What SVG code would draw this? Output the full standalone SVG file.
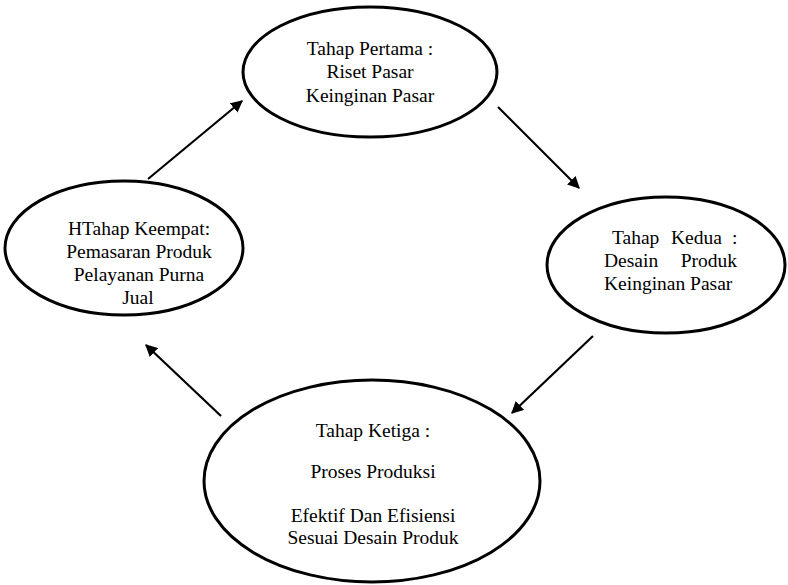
<svg xmlns="http://www.w3.org/2000/svg" width="788" height="585" viewBox="0 0 788 585">
<style>
.node ellipse{fill:#fff;stroke:#000;stroke-width:3}
.c{text-anchor:middle}
.conn line{stroke:#000;stroke-width:2.2}
</style>
<defs>
<marker id="ah" viewBox="0 0 10 10" refX="9" refY="5" markerWidth="5.5" markerHeight="5.5" markerUnits="strokeWidth" orient="auto">
<path d="M0,0 L10,5 L0,10 z" fill="#000"/>
</marker>
</defs>
<rect width="788" height="585" fill="#fff"/>
<g font-family="Liberation Serif, serif" font-size="19.5" fill="#000">
<g id="n1" class="node">
<ellipse cx="370" cy="72" rx="127" ry="65"/>
<text class="c" x="370" y="55">Tahap Pertama :</text>
<text class="c" x="370" y="78">Riset Pasar</text>
<text class="c" x="370" y="102">Keinginan Pasar</text>
</g>
<g id="n2" class="node">
<ellipse cx="666" cy="265" rx="119" ry="68"/>
<text x="612" y="244">Tahap</text>
<text x="671" y="244">Kedua</text>
<text x="732" y="244">:</text>
<text x="604" y="267">Desain</text>
<text x="737" y="267" text-anchor="end">Produk</text>
<text x="604" y="290">Keinginan Pasar</text>
</g>
<g id="n3" class="node">
<ellipse cx="124" cy="248" rx="119" ry="67"/>
<text class="c" x="139" y="235">HTahap Keempat:</text>
<text class="c" x="139" y="258">Pemasaran Produk</text>
<text class="c" x="139" y="281">Pelayanan Purna</text>
<text class="c" x="138" y="304">Jual</text>
</g>
<g id="n4" class="node">
<ellipse cx="372" cy="481" rx="168" ry="101"/>
<text class="c" x="373" y="437">Tahap Ketiga :</text>
<text class="c" x="373" y="478">Proses Produksi</text>
<text class="c" x="373" y="522">Efektif Dan Efisiensi</text>
<text class="c" x="373" y="544">Sesuai Desain Produk</text>
</g>
</g>
<g id="connectors" class="conn">
<line x1="148" y1="179" x2="242" y2="101" marker-end="url(#ah)"/>
<line x1="498" y1="107" x2="579" y2="188" marker-end="url(#ah)"/>
<line x1="593" y1="336" x2="512" y2="413" marker-end="url(#ah)"/>
<line x1="221" y1="416" x2="146" y2="345" marker-end="url(#ah)"/>
</g>
</svg>
